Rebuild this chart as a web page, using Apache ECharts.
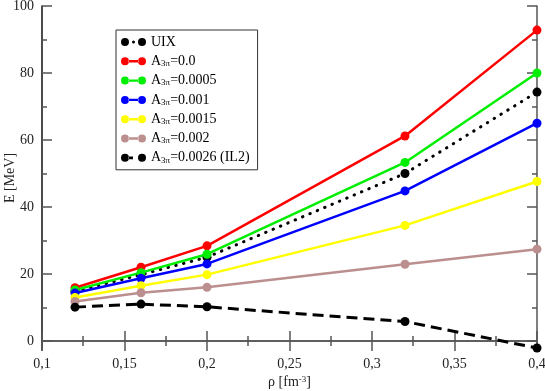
<!DOCTYPE html>
<html>
<head>
<meta charset="utf-8">
<script src="https://cdn.jsdelivr.net/npm/echarts@6/dist/echarts.min.js"></script>
<style>
  html, body { margin: 0; padding: 0; background: #fff; }
  #chart { width: 545px; height: 391px; }
</style>
</head>
<body>
<div id="chart"></div>
<script>
// density points
const rho = [0.12, 0.16, 0.2, 0.32, 0.4]
// energies per model
const uix = [14.8, 19.8, 25.0, 50.0, 74.3]
const a00 = [15.9, 22.0, 28.4, 61.2, 92.8]
const a0005 = [15.2, 20.4, 25.9, 53.3, 80.0]
const a001 = [14.3, 18.7, 23.0, 44.8, 65.0]
const a0015 = [13.0, 16.5, 19.8, 34.5, 47.6]
const a002 = [11.8, 14.4, 16.0, 22.9, 27.4]
const il2 = [10.1, 11.0, 10.2, 5.8, -2.1]

const yMajor = [0, 20, 40, 60, 80, 100]
const yMinor = [10, 30, 50, 70, 90]
const legendValues = ['0.0', '0.0005', '0.001', '0.0015', '0.002', '0.0026 (IL2)']

const font = 'Liberation Serif'
const pair = (ys) => rho.map((x, i) => [x, ys[i]])

// legend icons: marker - line - marker (pieces kept apart so nothing cancels out)
const iconSolid = 'path://M0,4A4,4 0 1,0 8,4A4,4 0 1,0 0,4Z M7.5,2.8L17.5,2.8L17.5,5.2L7.5,5.2Z M17,4A4,4 0 1,0 25,4A4,4 0 1,0 17,4Z'
const iconDot = 'path://M0,4A4,4 0 1,0 8,4A4,4 0 1,0 0,4Z M11,4A1.5,1.5 0 1,0 14,4A1.5,1.5 0 1,0 11,4Z M17,4A4,4 0 1,0 25,4A4,4 0 1,0 17,4Z'
const iconDash = 'path://M0,4A4,4 0 1,0 8,4A4,4 0 1,0 0,4Z M7.5,2.6L12,2.6L12,5.4L7.5,5.4Z M17,4A4,4 0 1,0 25,4A4,4 0 1,0 17,4Z'

const chart = echarts.init(document.getElementById('chart'))

function line(name, data, color, lineType, width, cap) {
    return {
        name: name,
        type: 'line',
        data: pair(data),
        symbol: 'circle',
        symbolSize: 9,
        color: color,
        itemStyle: { color: color },
        lineStyle: { color: color, width: width || 2.5, type: lineType || 'solid', cap: cap || 'butt' },
        animation: false
    }
}

const names = ['UIX'].concat(legendValues.map(v => 'A' + v))

const frameAxis = {
    axisLine: { show: true, lineStyle: { color: '#555', width: 1.5 } },
    axisLabel: { show: false },
    splitLine: { show: false }
}

chart.setOption({
    animation: false,
    grid: { left: 42, right: 8, top: 6, bottom: 41, containLabel: false, outerBoundsMode: 'none' },
    legend: {
        orient: 'vertical',
        left: 116,
        top: 30,
        width: 139,
        padding: [3, 8, 5, 5],
        itemWidth: 25,
        itemHeight: 8,
        itemGap: 3.3,
        borderColor: '#333',
        borderWidth: 1,
        backgroundColor: '#fff',
        data: names.map((n, i) => ({
            name: n,
            icon: i === 0 ? iconDot : (i === names.length - 1 ? iconDash : iconSolid)
        })),
        formatter: function (name) {
            if (name === 'UIX') return '{a|UIX}{s| }'
            return '{a|A}{s|3π}{a|=' + name.slice(1) + '}'
        },
        textStyle: {
            fontFamily: font,
            color: '#000',
            rich: {
                a: { fontFamily: font, fontSize: 14, color: '#000', lineHeight: 14, verticalAlign: 'top' },
                s: { fontFamily: font, fontSize: 9, color: '#000', lineHeight: 10, padding: [7, 0, 0, 0], verticalAlign: 'bottom' }
            }
        }
    },
    xAxis: [
        Object.assign({}, frameAxis, {
            type: 'value',
            min: 0.1,
            max: 0.4,
            interval: 0.05,
            position: 'bottom',
            axisTick: { show: true, inside: true, length: 10, lineStyle: { color: '#555', width: 1.5 } },
            minorTick: { show: true, splitNumber: 2, length: 5, lineStyle: { color: '#555', width: 1.5 } },
            axisLabel: {
                show: true,
                margin: 7,
                fontFamily: font,
                fontSize: 14,
                color: '#222',
                formatter: v => v.toFixed(2).replace(/0$/, '').replace('.', ',')
            },
            name: '{b|ρ [fm}{sup|-3}{b|]}',
            nameLocation: 'middle',
            nameGap: 25,
            nameMoveOverlap: false,
            nameTextStyle: {
                fontFamily: font,
                fontSize: 14,
                color: '#222',
                rich: {
                    b: { fontFamily: font, fontSize: 14, color: '#222', lineHeight: 14, verticalAlign: 'bottom' },
                    sup: { fontFamily: font, fontSize: 9, color: '#222', lineHeight: 10, padding: [0, 0, 6, 0], verticalAlign: 'top' }
                }
            }
        }),
        Object.assign({}, frameAxis, {
            type: 'value',
            min: 0.1,
            max: 0.4,
            interval: 0.05,
            position: 'top',
            axisTick: { show: true, inside: true, length: 10, lineStyle: { color: '#555', width: 1.5 } },
            minorTick: { show: true, splitNumber: 2, length: 5, lineStyle: { color: '#555', width: 1.5 } }
        })
    ],
    yAxis: [
        Object.assign({}, frameAxis, {
            type: 'value',
            min: -2.7,
            max: 100,
            position: 'left',
            axisLine: { show: true, lineStyle: { color: '#111', width: 1.5 } },
            axisTick: { show: true, inside: true, length: 10, customValues: yMajor, lineStyle: { color: '#555', width: 1.5 } },
            axisLabel: {
                show: true,
                margin: 8,
                fontFamily: font,
                fontSize: 14,
                color: '#222',
                customValues: yMajor
            },
            name: 'E [MeV]',
            nameLocation: 'middle',
            nameGap: 25,
            nameMoveOverlap: false,
            nameTextStyle: { fontFamily: font, fontSize: 14, color: '#222' }
        }),
        Object.assign({}, frameAxis, {
            type: 'value',
            min: -2.7,
            max: 100,
            position: 'left',
            axisLine: { show: false },
            axisTick: { show: true, inside: true, length: 5, customValues: yMinor, lineStyle: { color: '#555', width: 1.5 } }
        }),
        Object.assign({}, frameAxis, {
            type: 'value',
            min: -2.7,
            max: 100,
            position: 'right',
            axisTick: { show: true, inside: true, length: 10, customValues: yMajor, lineStyle: { color: '#555', width: 1.5 } }
        }),
        Object.assign({}, frameAxis, {
            type: 'value',
            min: -2.7,
            max: 100,
            position: 'right',
            axisLine: { show: false },
            axisTick: { show: true, inside: true, length: 5, customValues: yMinor, lineStyle: { color: '#555', width: 1.5 } }
        })
    ],
    series: [
        line(names[0], uix, '#000', [0.5, 7.5], 3, 'round'),
        line(names[1], a00, '#ff0000'),
        line(names[2], a0005, '#00ee00'),
        line(names[3], a001, '#0000ff'),
        line(names[4], a0015, '#ffff00'),
        line(names[5], a002, '#bc8f8f'),
        line(names[6], il2, '#000', [11, 6], 3)
    ]
})
</script>
</body>
</html>
